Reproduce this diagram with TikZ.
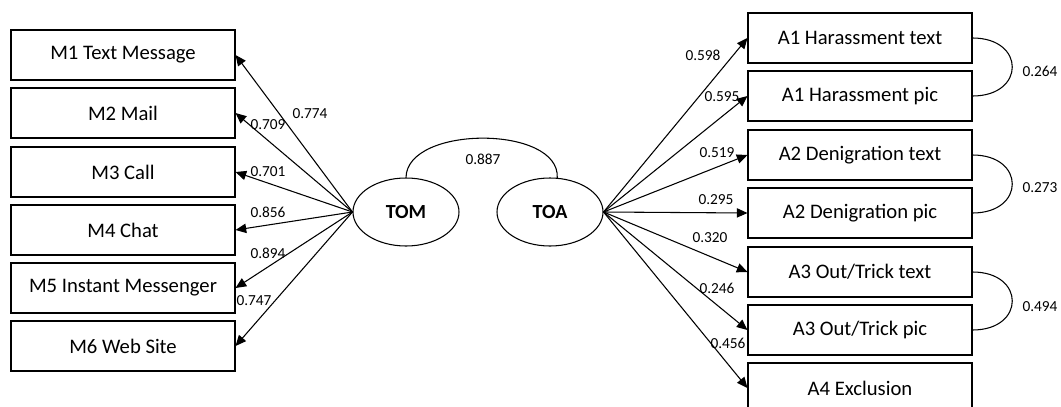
\documentclass[tikz,border=0pt]{standalone}
\usepackage{fontspec}
\setmainfont{Carlito}
\usepackage{tikz}
\usetikzlibrary{arrows.meta,shapes.geometric}
\tikzset{
  obs/.style={draw, line width=0.8pt, minimum width=168pt, minimum height=37.5pt, inner sep=0pt, font=\fontsize{15.5}{18}\selectfont},
  lat/.style={draw, ellipse, line width=0.8pt, minimum width=79.5pt, minimum height=51pt, inner sep=0pt, font=\fontsize{15}{18}\selectfont\bfseries},
  wt/.style={inner sep=0pt, font=\fontsize{11.5}{13}\selectfont},
}
\def\drawload{\draw[line width=0.8pt, -{Triangle[length=8pt,width=7pt]}]}
\def\drawcov{\draw[line width=0.8pt]}

\begin{document}
\begin{tikzpicture}[x=0.75pt,y=-0.75pt]
\useasboundingbox (0,0) rectangle (1061,407);
% latent factors
\node[lat] (tom) at (406,212) {TOM};
\node[lat] (toa) at (550,212) {TOA};
% media items
\node[obs] (m1) at (123,55) {M1 Text Message};
\node[obs] (m2) at (123,113) {M2 Mail};
\node[obs] (m3) at (123,172) {M3 Call};
\node[obs] (m4) at (123,230) {M4 Chat};
\node[obs] (m5) at (123,288) {M5 Instant Messenger};
\node[obs] (m6) at (123,346) {M6 Web Site};
% act items
\node[obs] (a1t) at (860,38) {A1 Harassment text};
\node[obs] (a1p) at (860,96) {A1 Harassment pic};
\node[obs] (a2t) at (860,155) {A2 Denigration text};
\node[obs] (a2p) at (860,213) {A2 Denigration pic};
\node[obs] (a3t) at (860,272) {A3 Out/Trick text};
\node[obs] (a3p) at (860,330) {A3 Out/Trick pic};
\node[obs] (a4) at (860,388) {A4 Exclusion};
% loadings
\drawload (tom.west) -- (m1.east);
\drawload (tom.west) -- (m2.east);
\drawload (tom.west) -- (m3.east);
\drawload (tom.west) -- (m4.east);
\drawload (tom.west) -- (m5.east);
\drawload (tom.west) -- (m6.east);
\drawload (toa.east) -- (a1t.west);
\drawload (toa.east) -- (a1p.west);
\drawload (toa.east) -- (a2t.west);
\drawload (toa.east) -- (a2p.west);
\drawload (toa.east) -- (a3t.west);
\drawload (toa.east) -- (a3p.west);
\drawload (toa.east) -- (a4.west);
\node[wt] (wm1) at (310,114) {0.774};
\node[wt] (wm2) at (268,125) {0.709};
\node[wt] (wm3) at (268,172) {0.701};
\node[wt] (wm4) at (268,212) {0.856};
\node[wt] (wm5) at (268,253) {0.894};
\node[wt] (wm6) at (254,301) {0.747};
\node[wt] (wa1) at (703,55) {0.598};
\node[wt] (wa2) at (722,97) {0.595};
\node[wt] (wa3) at (717,153) {0.519};
\node[wt] (wa4) at (716,200) {0.295};
\node[wt] (wa5) at (710,238) {0.320};
\node[wt] (wa6) at (717,288) {0.246};
\node[wt] (wa7) at (728,343) {0.456};
% covariances
\drawcov (tom.north) .. controls (407,125) and (560,125) .. (toa.78);
\node[wt] (c0) at (483,159) {0.887};
\drawcov (a1t.east) .. controls +(53,0) and +(53,0) .. (a1p.east);
\node[wt] (c1) at (1040,71) {0.264};
\drawcov (a2t.east) .. controls +(53,0) and +(53,0) .. (a2p.east);
\node[wt] (c2) at (1040,188) {0.273};
\drawcov (a3t.east) .. controls +(53,0) and +(53,0) .. (a3p.east);
\node[wt] (c3) at (1040,307) {0.494};
\end{tikzpicture}
\end{document}
